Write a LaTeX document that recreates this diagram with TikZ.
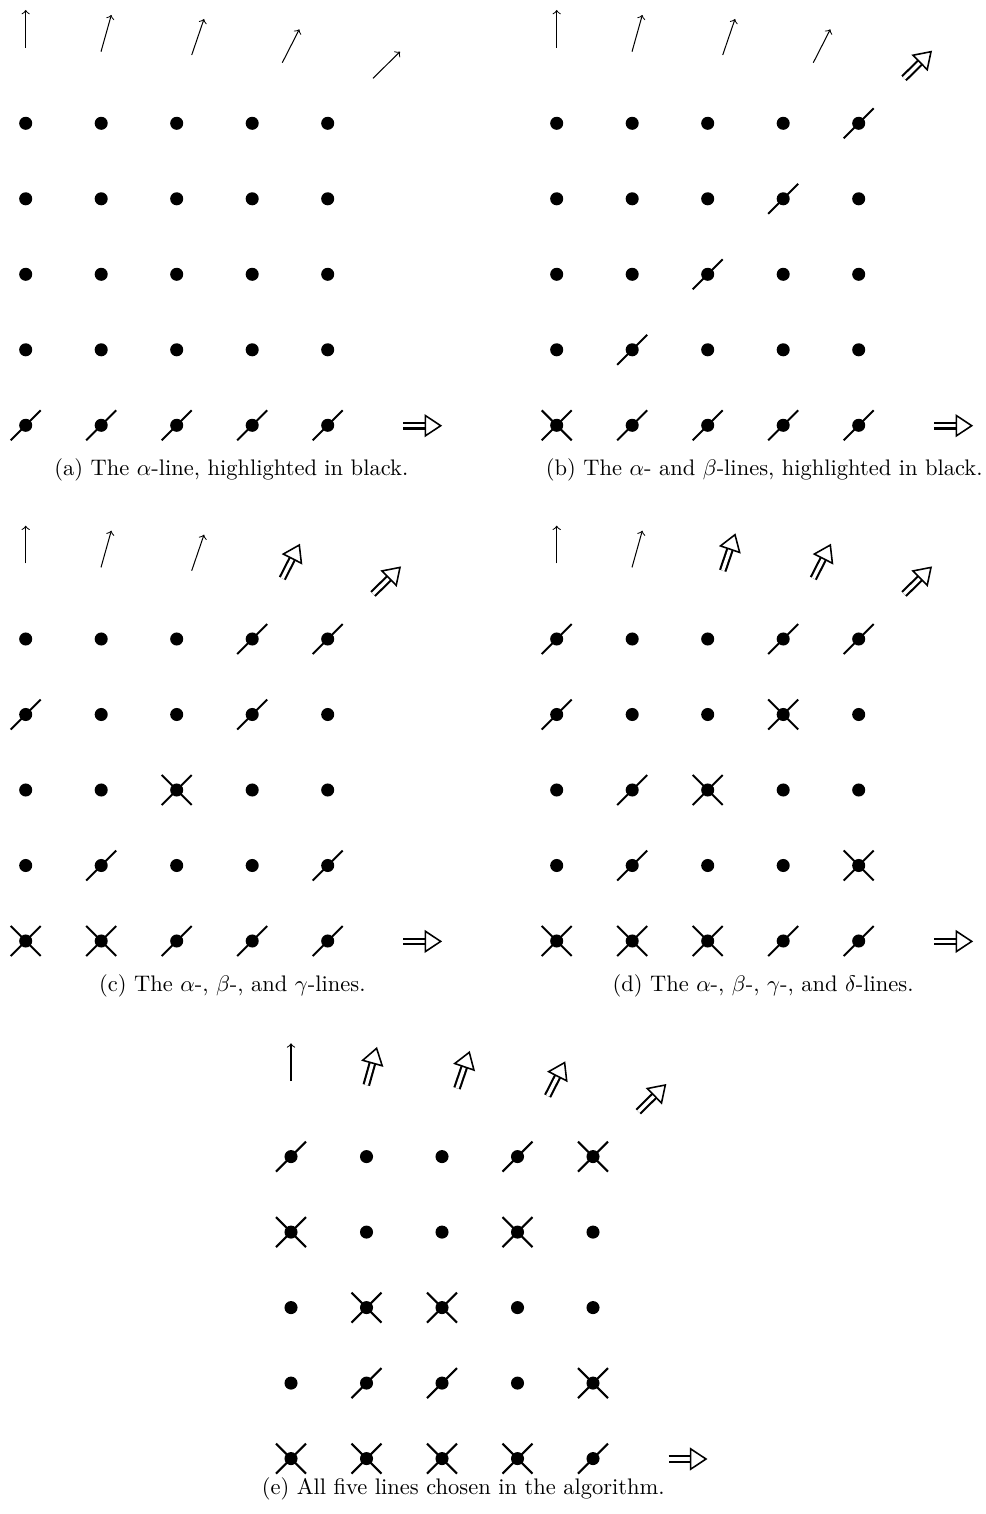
\documentclass[tikz,border=0pt]{standalone}
\usetikzlibrary{calc}
\tikzset{
  dot/.style={circle,fill=black,inner sep=0pt,minimum size=5.8pt},
  markline/.style={line width=0.9pt},
  thinarrow/.style={->,line width=0.45pt},
  dblshaft/.style={double,line width=0.95pt,double distance=1.5pt},
  dblhead/.style={line width=0.7pt,fill=white,line join=miter},
  capt/.style={anchor=base,inner sep=0pt,font=\fontsize{10}{12}\selectfont}
}
\newcommand\dblarrow[2]{%
  \coordinate (#2-b) at ($(#2)!6.8pt!(#1)$);
  \draw[dblshaft] (#1) -- (#2-b);
  \draw[dblhead] ($(#2-b)!4.5pt!90:(#2)$) -- (#2) -- ($(#2-b)!4.5pt!-90:(#2)$) -- cycle;
}
\newcommand\drawpanel[5]{%
  \begin{scope}[shift={(#2,#3)}]
    \foreach \m [count=\k from 0] in {#4}{%
      \pgfmathtruncatemacro\rr{\k/5}%
      \pgfmathtruncatemacro\cc{\k-5*\rr}%
      \node[dot] (#1-\rr-\cc) at ({25.7+75.5*\cc},{123.3+75.5*\rr}) {};
      \if s\m
        \draw[markline] (#1-\rr-\cc.center) ++(-15,15) -- ++(30,-30);
      \fi
      \if x\m
        \draw[markline] (#1-\rr-\cc.center) ++(-15,15) -- ++(30,-30);
        \draw[markline] (#1-\rr-\cc.center) ++(-15,-15) -- ++(30,30);
      \fi
    }
    \foreach \i/\sx/\sy/\ex/\ey in {0/25.7/47.7/25.7/10, 1/101/51.7/111.3/15,
        2/191.7/55/204/19, 3/282.3/62.7/299.3/29.3, 4/373/78.3/400/51.7}{%
      \coordinate (#1-t\i) at (\sx,\sy);
      \coordinate (#1-h\i) at (\ex,\ey);
      \ifnum\i<#5
        \draw[thinarrow] (#1-t\i) -- (#1-h\i);
      \else
        \dblarrow{#1-t\i}{#1-h\i}
      \fi
    }
    \coordinate (#1-rt) at (403.3,425.7);
    \coordinate (#1-rh) at (440.7,425.7);
    \dblarrow{#1-rt}{#1-rh}
  \end{scope}
}
\begin{document}
\begin{tikzpicture}[x=0.4444pt,y=-0.4444pt]
  \useasboundingbox (0,0) rectangle (985,1514);
  \drawpanel{pa}{0}{0}{d,d,d,d,d, d,d,d,d,d, d,d,d,d,d, d,d,d,d,d, s,s,s,s,s}{5}
  \drawpanel{pb}{531}{0}{d,d,d,d,s, d,d,d,s,d, d,d,s,d,d, d,s,d,d,d, x,s,s,s,s}{4}
  \drawpanel{pc}{0}{515.7}{d,d,d,s,s, s,d,d,s,d, d,d,x,d,d, d,s,d,d,s, x,x,s,s,s}{3}
  \drawpanel{pd}{531}{515.7}{s,d,d,s,s, s,d,d,x,d, d,s,x,d,d, d,s,d,d,x, x,x,x,s,s}{2}
  \drawpanel{pe}{265.3}{1033.3}{s,d,d,s,x, x,d,d,x,d, d,x,x,d,d, d,s,s,d,x, x,x,x,x,s}{1}
  \node[capt] (ca) at (231.3,475.5) {(a) The $\alpha$-line, highlighted in black.};
  \node[capt] (cb) at (764.2,475.5) {(b) The $\alpha$- and $\beta$-lines, highlighted in black.};
  \node[capt] (cc) at (232.3,991) {(c) The $\alpha$-, $\beta$-, and $\gamma$-lines.};
  \node[capt] (cd) at (763,991) {(d) The $\alpha$-, $\beta$-, $\gamma$-, and $\delta$-lines.};
  \node[capt] (ce) at (463.2,1494) {(e) All five lines chosen in the algorithm.};
\end{tikzpicture}
\end{document}
